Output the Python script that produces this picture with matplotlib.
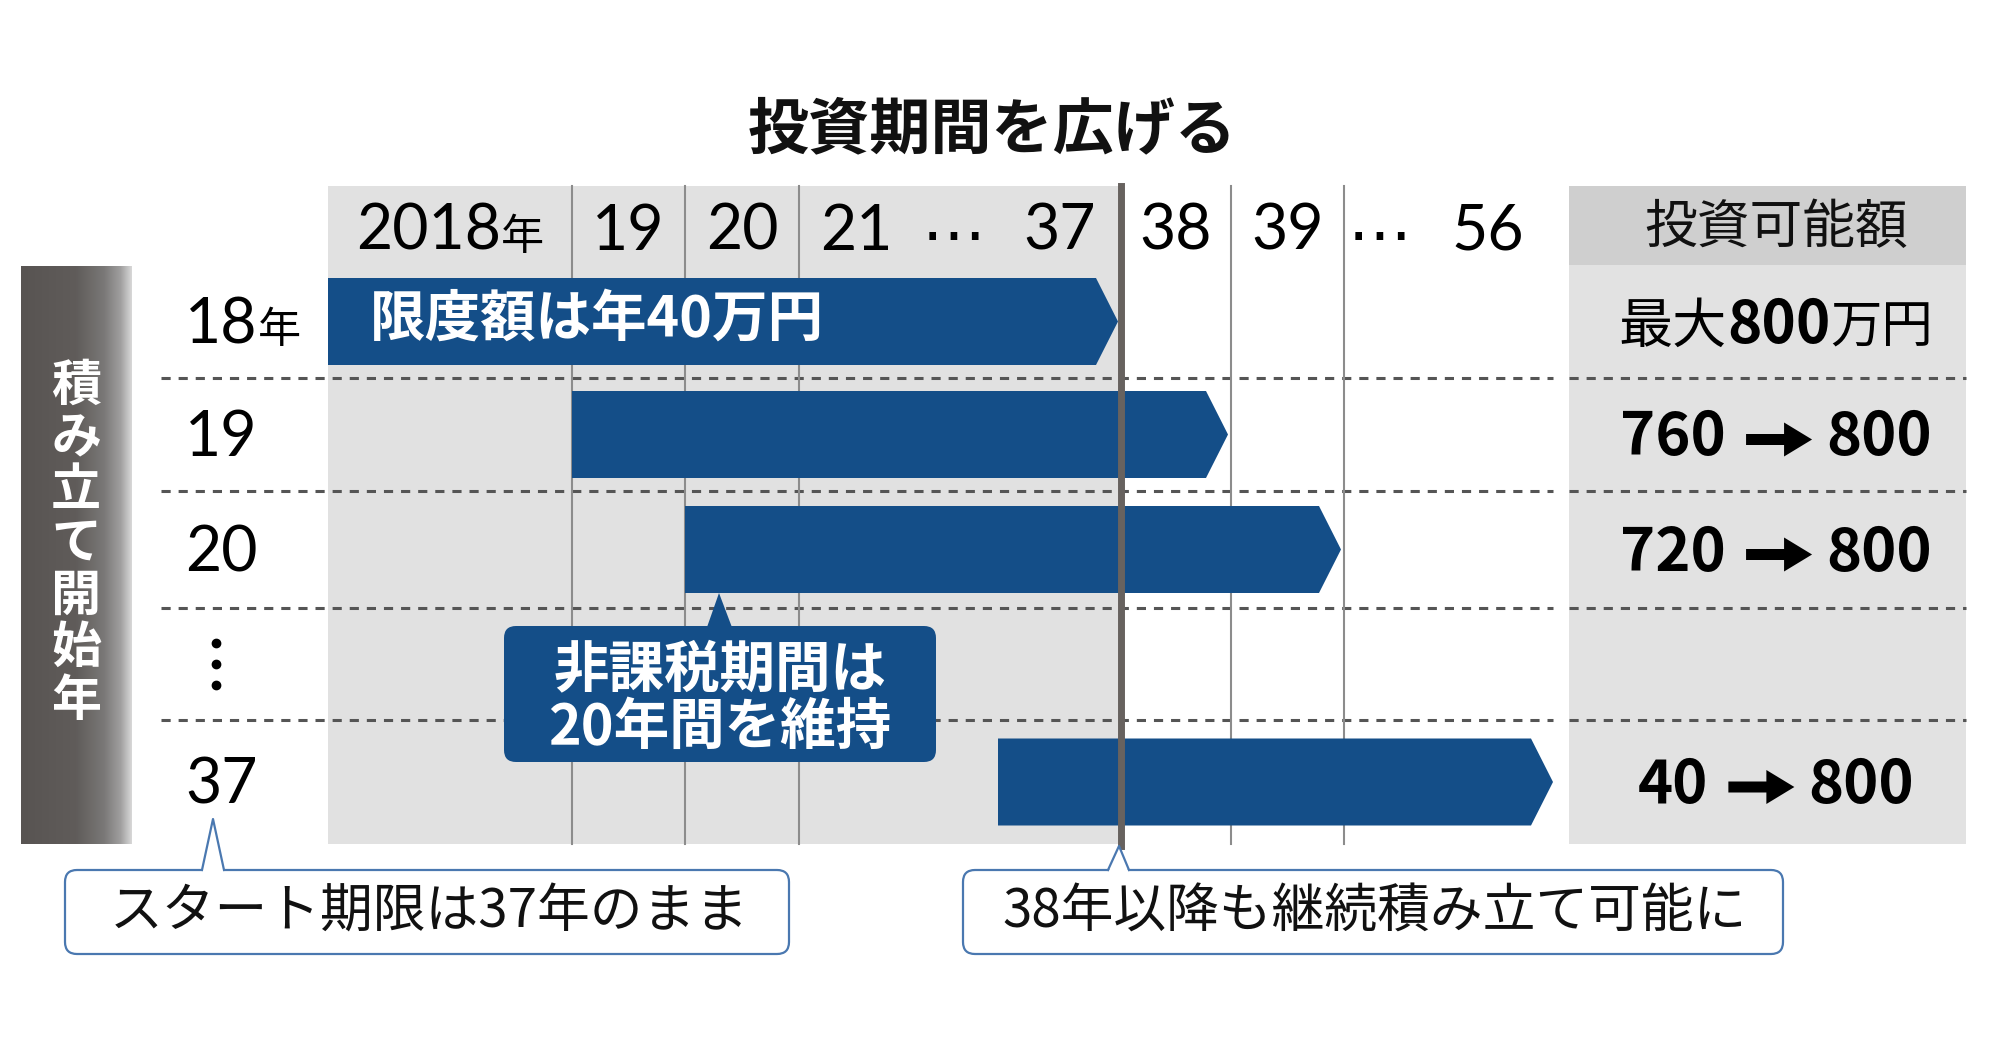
import numpy as np
import matplotlib
matplotlib.use("Agg")
import matplotlib.pyplot as plt
from matplotlib.patches import Rectangle, Polygon, FancyBboxPatch
from matplotlib.lines import Line2D

# ---------------- data ----------------
title = "投資期間を広げる"
header_years = [2018, 2019, 2020, 2021, 2037, 2038, 2039, 2056]
header_labels = ["2018", "19", "20", "21", "37", "38", "39", "56"]
row_labels = ["18", "19", "20", "⋮", "37"]
row_start = [2018, 2019, 2020, None, 2037]
row_end = [2037, 2038, 2039, None, 2056]
amount_before = [None, 760, 720, None, 40]
amount_after = [800, 800, 800, None, 800]
bar_note = "限度額は年40万円"
side_title = "積み立て開始年"
amount_header = "投資可能額"
callout_center = ["非課税期間は", "20年間を維持"]
callout_left = "スタート期限は37年のまま"
callout_right = "38年以降も継続積み立て可能に"

# ---------------- layout ----------------
W, H = 1990, 1048
CJK = "Noto Sans CJK JP"
NUM = ["Lato", CJK, "DejaVu Sans"]
FAM = [CJK, "DejaVu Sans"]
BLUE = "#144e88"
year_span = {2018: (328, 572), 2019: (572, 685), 2020: (685, 799), 2021: (799, 913),
             2037: (998, 1121), 2038: (1121, 1231), 2039: (1231, 1344), 2056: (1420, 1556)}
ellipsis_x = [(913 + 998) / 2 - 2, (1344 + 1420) / 2 - 2]
top, header_bot, bottom = 186, 265, 844
row_edges = [265, 378, 491, 608, 720, 844]
bar_h = 87
tip = 22
right_l, right_r = 1569, 1966
right_cx = 1776

fig = plt.figure(figsize=(W / 100, H / 100), dpi=100)
ax = fig.add_axes([0, 0, 1, 1])
ax.set_xlim(0, W)
ax.set_ylim(H, 0)
ax.axis("off")
renderer = fig.canvas.get_renderer()


def runs(x, y, parts, ha="center", color="black", z=8):
    objs, widths = [], []
    for s, kw in parts:
        t = ax.text(0, y, s, va="baseline", ha="left", color=color, zorder=z, **kw)
        widths.append(t.get_window_extent(renderer=renderer).width)
        objs.append(t)
    total = sum(widths)
    cur = x - total / 2 if ha == "center" else (x if ha == "left" else x - total)
    spans = []
    for t, w in zip(objs, widths):
        t.set_x(cur)
        spans.append((cur, w))
        cur += w
    return spans


def heavy_arrow(xa, xb, yc, color="black"):
    shaft, head, head_len = 11, 34, 28
    pts = [[xa, yc - shaft / 2], [xb - head_len, yc - shaft / 2], [xb - head_len, yc - head / 2],
           [xb, yc], [xb - head_len, yc + head / 2], [xb - head_len, yc + shaft / 2],
           [xa, yc + shaft / 2]]
    ax.add_patch(Polygon(pts, closed=True, facecolor=color, edgecolor="none", zorder=8))


# title
ax.text(992, 131, title, ha="center", va="center", fontsize=44, fontweight="bold",
        family=FAM, color="#111")

# gray panel (2018-2037)
ax.add_patch(Rectangle((328, top), 1121 - 328, bottom - top, facecolor="#e1e1e1",
                       edgecolor="none", zorder=1))
# right panel
ax.add_patch(Rectangle((right_l, top), right_r - right_l, header_bot - top,
                       facecolor="#cfcfcf", edgecolor="none", zorder=1))
ax.add_patch(Rectangle((right_l, header_bot), right_r - right_l, bottom - header_bot,
                       facecolor="#e2e2e2", edgecolor="none", zorder=1))

# side label box with gradient
grad_t = np.linspace(0, 1, 200)
cols = np.stack([np.interp(grad_t, [0, 0.5, 0.75, 0.9, 1.0], [0x58, 0x60, 0x7a, 0xa0, 0xd8]),
                 np.interp(grad_t, [0, 0.5, 0.75, 0.9, 1.0], [0x54, 0x5c, 0x78, 0x9f, 0xd8]),
                 np.interp(grad_t, [0, 0.5, 0.75, 0.9, 1.0], [0x52, 0x5a, 0x77, 0x9f, 0xd8])],
                axis=-1) / 255.0
ax.imshow(cols[None, :, :], extent=(21, 132, bottom, 266), aspect="auto", zorder=2,
          interpolation="bilinear")
for i, ch in enumerate(side_title):
    ax.text(76, 386 + 52.5 * i, ch, ha="center", va="center", fontsize=36,
            fontweight="bold", family=FAM, color="white", zorder=8)

# dashed row separators
for y in row_edges[1:-1]:
    ax.add_line(Line2D([161, 1553], [y, y], color="#555555", lw=2.2,
                       linestyle=(0, (3, 2.6)), zorder=2))
    ax.add_line(Line2D([right_l, right_r], [y, y], color="#555555", lw=2.2,
                       linestyle=(0, (3, 2.6)), zorder=2))

# vertical column lines
for x in [year_span[2019][0], year_span[2020][0], year_span[2021][0],
          year_span[2039][0], year_span[2039][1]]:
    ax.add_line(Line2D([x, x], [top, bottom], color="#8c8c8c", lw=1.5, zorder=2))
ax.add_line(Line2D([1121, 1121], [top, 846], color="#67625f", lw=5, zorder=4))

# header labels
hy = 250
for yr, lab in zip(header_years, header_labels):
    cx = sum(year_span[yr]) / 2
    parts = [(lab, dict(fontsize=45, family=NUM))]
    if yr == 2018:
        parts.append(("年", dict(fontsize=31, family=FAM)))
    runs(cx, hy, parts)
for ex in ellipsis_x:
    ax.text(ex, 222, "…", ha="center", va="center", fontsize=46, family=["DejaVu Sans"],
            color="black", zorder=8)

# row labels + bars + amounts
for i, lab in enumerate(row_labels):
    yc = (row_edges[i] + row_edges[i + 1]) / 2
    if lab == "⋮":
        ax.plot([216, 216, 216], [yc - 21, yc, yc + 21], linestyle="none", marker="o",
                ms=6, color="black", zorder=8)
    else:
        parts = [(lab, dict(fontsize=45, family=NUM))]
        if i == 0:
            parts.append(("年", dict(fontsize=31, family=FAM)))
        runs(185, yc + 22, parts, ha="left")
    if row_start[i] is not None:
        x0 = year_span[row_start[i]][0]
        x1 = year_span[row_end[i]][1] - 3
        yt, yb = yc - bar_h / 2, yc + bar_h / 2
        ax.add_patch(Polygon([[x0, yt], [x1 - tip, yt], [x1, yc], [x1 - tip, yb], [x0, yb]],
                             closed=True, facecolor=BLUE, edgecolor="none", zorder=3))
    if amount_after[i] is not None:
        if amount_before[i] is None:
            runs(right_cx, yc + 21, [("最大", dict(fontsize=39, family=FAM)),
                                     (str(amount_after[i]), dict(fontsize=42, family=FAM,
                                                                 fontweight="bold")),
                                     ("万円", dict(fontsize=37, family=FAM))])
        else:
            spans = runs(right_cx, yc + 21,
                         [(str(amount_before[i]), dict(fontsize=43, family=FAM,
                                                       fontweight="bold")),
                          ("\u3000\u3000", dict(fontsize=36, family=FAM)),
                          (str(amount_after[i]), dict(fontsize=43, family=FAM,
                                                      fontweight="bold"))])
            gx, gw = spans[1]
            heavy_arrow(gx + 20, gx + gw - 14, yc + 5)

ax.text(right_cx, 227, amount_header, ha="center", va="center", fontsize=38, family=FAM,
        color="#111", zorder=8)

# note inside first bar
ax.text(370, 320, bar_note, ha="left", va="center", fontsize=40, fontweight="bold",
        family=FAM, color="white", zorder=8)

# centre callout (filled)
ax.add_patch(FancyBboxPatch((504, 626), 936 - 504, 762 - 626,
                            boxstyle="round,pad=0,rounding_size=12",
                            facecolor=BLUE, edgecolor="none", zorder=6))
ax.add_patch(Polygon([[719, 593], [706, 630], [733, 630]], closed=True,
                     facecolor=BLUE, edgecolor="none", zorder=6))
ax.text(720, 670, callout_center[0], ha="center", va="center", fontsize=40,
        fontweight="bold", family=FAM, color="white", zorder=8)
ax.text(720, 728, callout_center[1], ha="center", va="center", fontsize=40,
        fontweight="bold", family=FAM, color="white", zorder=8)


def outline_callout(x0, x1, y0, y1, tipx, tipy, bl, br, text, tx):
    ec = "#4a78b0"
    ax.add_patch(FancyBboxPatch((x0, y0), x1 - x0, y1 - y0,
                                boxstyle="round,pad=0,rounding_size=12",
                                facecolor="white", edgecolor=ec, lw=1.6, zorder=6))
    ax.add_patch(Polygon([[tipx, tipy], [bl, y0 + 3], [br, y0 + 3]], closed=True,
                         facecolor="white", edgecolor="none", zorder=7))
    ax.add_line(Line2D([bl, tipx, br], [y0, tipy, y0], color=ec, lw=1.6, zorder=7))
    ax.text(tx, (y0 + y1) / 2, text, ha="center", va="center", fontsize=38,
            family=FAM, color="#111", zorder=8)


outline_callout(65, 789, 870, 954, 213, 819, 202, 224, callout_left, 429)
outline_callout(963, 1783, 870, 954, 1119, 846, 1108, 1129, callout_right, 1375)

fig.savefig("out.png", dpi=100, facecolor="white")
